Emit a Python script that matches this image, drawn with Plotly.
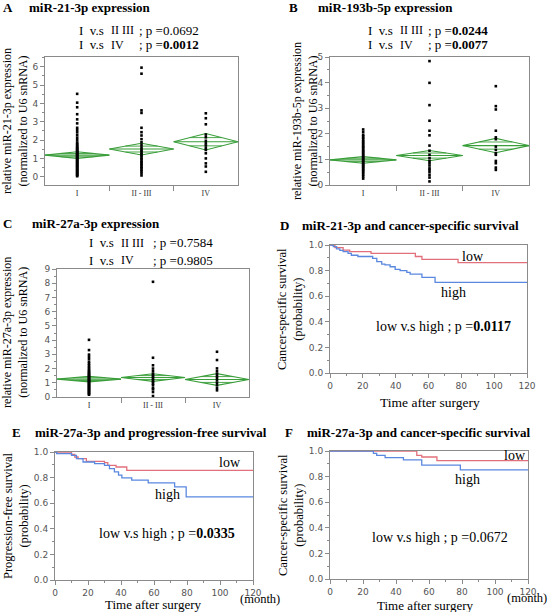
import plotly.graph_objects as go

W, H = 550, 612

# ---------------- data ----------------
groups = ["I", "II - III", "IV"]

A_I = [4.52, 4.04, 3.79, 3.41, 3.13, 2.91, 2.67, 2.55, 2.42, 2.27, 2.13, 2.0, 1.87, 1.79, 1.73, 1.66, 1.61,
       1.55, 1.5, 1.47, 1.41, 1.37, 1.33, 1.28, 1.25, 1.21, 1.16, 1.13, 1.09, 1.04, 1.01, 0.97, 0.92, 0.89,
       0.85, 0.8, 0.77, 0.72, 0.69, 0.64, 0.6, 0.57, 0.52, 0.48, 0.44, 0.39, 0.36, 0.31, 0.27, 0.23, 0.19,
       0.14, 0.11, 0.07, 0.03]
A_II = [5.95, 5.62, 3.62, 3.48, 2.67, 2.43, 2.25, 2.05, 1.88, 1.74, 1.6, 1.49, 1.4, 1.31, 1.22, 1.15, 1.05,
        0.97, 0.88, 0.79, 0.72, 0.64, 0.55, 0.48, 0.38, 0.3, 0.19, 0.07]
A_IV = [3.46, 3.19, 2.86, 2.3, 2.15, 1.96, 1.82, 1.7, 1.55, 1.46, 1.28, 1.0, 0.73, 0.56, 0.27]
A_mean = [1.18, 1.51, 1.91]
A_ci = [0.18, 0.32, 0.45]

B_I = [2.17, 2.07, 1.96, 1.9, 1.84, 1.78, 1.71, 1.66, 1.6, 1.54, 1.49, 1.44, 1.38, 1.33, 1.28, 1.23, 1.18,
       1.13, 1.08, 1.04, 0.99, 0.95, 0.9, 0.86, 0.81, 0.77, 0.72, 0.68, 0.63, 0.58, 0.53, 0.47, 0.4, 0.33, 0.25]
B_II = [4.84, 3.99, 3.12, 2.51, 2.12, 1.94, 1.54, 1.34, 1.18, 1.05, 0.94, 0.85, 0.76, 0.65, 0.59, 0.5, 0.39,
        0.29, 0.14]
B_IV = [3.86, 3.08, 2.95, 2.12, 1.86, 1.79, 1.5, 1.37, 1.24, 1.18, 0.94, 0.85, 0.68, 0.59]
B_mean = [0.98, 1.15, 1.54]
B_ci = [0.13, 0.2, 0.28]

C_I = [4.02, 3.3, 2.98, 2.82, 2.66, 2.47, 2.35, 2.23, 2.11, 2.0, 1.9, 1.81, 1.74, 1.67, 1.6, 1.53, 1.47,
       1.41, 1.35, 1.29, 1.23, 1.17, 1.12, 1.06, 1.0, 0.94, 0.88, 0.82, 0.76, 0.7, 0.64, 0.58, 0.52, 0.46,
       0.4, 0.34, 0.28, 0.22, 0.16]
C_II = [8.1, 2.76, 2.23, 2.0, 1.81, 1.64, 1.53, 1.41, 1.29, 1.17, 1.06, 0.94, 0.82, 0.63, 0.54, 0.35, 0.07]
C_IV = [3.18, 2.6, 2.01, 1.81, 1.64, 1.48, 1.34, 1.17, 1.0, 0.82, 0.63, 0.47]
C_mean = [1.26, 1.37, 1.23]
C_ci = [0.2, 0.27, 0.41]

D_low_t = [0, 3, 8, 12, 25, 52, 56, 78, 120]
D_low_s = [1.0, 0.98, 0.96, 0.948, 0.935, 0.91, 0.888, 0.862, 0.862]
D_high_t = [0, 2, 4, 6, 8, 11, 13, 17, 26, 28.5, 31.5, 33.5, 36.6, 39.7, 42.7, 46.8, 48.8, 56, 64, 120]
D_high_s = [1.0, 0.987, 0.97, 0.958, 0.948, 0.935, 0.92, 0.91, 0.896, 0.87, 0.85, 0.844, 0.83, 0.81, 0.8,
            0.786, 0.773, 0.747, 0.708, 0.708]

E_low_t = [0, 10, 12, 14, 19, 30, 32, 37, 43.5, 120]
E_low_s = [1.0, 0.982, 0.961, 0.948, 0.927, 0.917, 0.896, 0.883, 0.857, 0.857]
E_high_t = [0, 1, 10, 13, 17, 24, 30, 33, 36, 38.5, 40.5, 46.5, 56.5, 72.5, 79.5, 120]
E_high_s = [1.0, 0.987, 0.974, 0.948, 0.922, 0.909, 0.896, 0.87, 0.845, 0.819, 0.798, 0.78, 0.759, 0.727,
            0.65, 0.65]

F_low_t = [0, 52.6, 55.6, 64.8, 120]
F_low_s = [1.0, 0.966, 0.953, 0.925, 0.925]
F_high_t = [0, 26.3, 28.3, 33.4, 44.5, 55.6, 79, 120]
F_high_s = [1.0, 0.982, 0.966, 0.948, 0.93, 0.89, 0.852, 0.852]

# ---------------- style ----------------
SERIF = "Liberation Serif"
SANS = "DejaVu Sans"
GREEN = "#3a9e3a"
RED = "#e2707c"
BLUE = "#5a88e0"
FRAME = "#8a8a8a"


def xdom(l, r):
    return [l / W, r / W]


def ydom(t, b):
    return [1 - b / H, 1 - t / H]


fig = go.Figure()

panels_box = {
    "A": (45, 238, 57, 185),
    "B": (330, 529, 57, 185),
    "C": (57, 249, 269, 397),
    "D": (330, 527, 245, 373),
    "E": (55, 253, 452, 580),
    "F": (330, 528, 451, 579),
}
axis_ids = {"A": "", "B": "2", "C": "3", "D": "4", "E": "5", "F": "6"}


def add_dot_panel(key, data_groups, means, cis):
    k = axis_ids[key]
    xa, ya = "x" + k, "y" + k
    for i, (vals, m, c) in enumerate(zip(data_groups, means, cis)):
        fig.add_trace(go.Scatter(
            x=[i - 0.5, i, i + 0.5, i, i - 0.5], y=[m, m + c, m, m - c, m],
            mode="lines", line=dict(color=GREEN, width=1.1), xaxis=xa, yaxis=ya,
            showlegend=False, hoverinfo="skip"))
        fig.add_trace(go.Scatter(
            x=[i - 0.5, i + 0.5], y=[m, m], mode="lines",
            line=dict(color=GREEN, width=1.1), xaxis=xa, yaxis=ya, showlegend=False, hoverinfo="skip"))
        for sgn in (1, -1):
            fig.add_trace(go.Scatter(
                x=[i - 0.25, i + 0.25], y=[m + sgn * 0.5 * c] * 2, mode="lines",
                line=dict(color=GREEN, width=0.9), xaxis=xa, yaxis=ya, showlegend=False, hoverinfo="skip"))
        fig.add_trace(go.Scatter(
            x=[i] * len(vals), y=vals, mode="markers",
            marker=dict(color="black", size=2.6, symbol="square", line=dict(width=0)),
            xaxis=xa, yaxis=ya, showlegend=False, hoverinfo="skip"))


def add_surv_panel(key, lt, ls, ht, hs):
    k = axis_ids[key]
    xa, ya = "x" + k, "y" + k
    fig.add_trace(go.Scatter(x=lt, y=ls, mode="lines", line=dict(color=RED, width=1.3, shape="hv"),
                             xaxis=xa, yaxis=ya, showlegend=False, hoverinfo="skip"))
    fig.add_trace(go.Scatter(x=ht, y=hs, mode="lines", line=dict(color=BLUE, width=1.3, shape="hv"),
                             xaxis=xa, yaxis=ya, showlegend=False, hoverinfo="skip"))


add_dot_panel("A", [A_I, A_II, A_IV], A_mean, A_ci)
add_dot_panel("B", [B_I, B_II, B_IV], B_mean, B_ci)
add_dot_panel("C", [C_I, C_II, C_IV], C_mean, C_ci)
add_surv_panel("D", D_low_t, D_low_s, D_high_t, D_high_s)
add_surv_panel("E", E_low_t, E_low_s, E_high_t, E_high_s)
add_surv_panel("F", F_low_t, F_low_s, F_high_t, F_high_s)

layout = dict(width=W, height=H, margin=dict(l=0, r=0, t=0, b=0, pad=0), autosize=False,
              paper_bgcolor="white", plot_bgcolor="white", showlegend=False)

yranges = {"A": [-0.45, 6.53], "B": [0, 5], "C": [0, 9]}
for key, (l, r, t, b) in panels_box.items():
    k = axis_ids[key]
    xn = "xaxis" + k
    yn = "yaxis" + k
    common = dict(showline=True, mirror=True, linecolor=FRAME, linewidth=1, showgrid=False,
                  zeroline=False, fixedrange=True, automargin=False)
    if key in ("A", "B", "C"):
        layout[xn] = dict(domain=xdom(l, r), range=[-0.5, 2.5], anchor="y" + k,
                          tickvals=[0, 1, 2], ticktext=groups, ticks="",
                          tickfont=dict(family=SERIF, size=8, color="#333"),
                          minor=dict(tickvals=[0.5, 1.5], ticks="outside", ticklen=5,
                                     tickcolor=FRAME, tickwidth=1),
                          **common)
        layout[yn] = dict(domain=ydom(t, b), range=yranges[key], anchor="x" + k,
                          dtick=1, tick0=0, ticks="outside", ticklen=4, tickcolor=FRAME,
                          tickfont=dict(family=SANS, size=9, color="#555"),
                          minor=dict(dtick=0.5, tick0=0, ticks="outside", ticklen=2, tickcolor=FRAME),
                          **common)
    else:
        layout[xn] = dict(domain=xdom(l, r), range=[0, 120], anchor="y" + k,
                          dtick=20, tick0=0, ticks="outside", ticklen=4, tickcolor=FRAME,
                          tickfont=dict(family=SANS, size=9, color="#555"),
                          minor=dict(dtick=10, tick0=0, ticks="outside", ticklen=2, tickcolor=FRAME),
                          **common)
        layout[yn] = dict(domain=ydom(t, b), range=[0, 1], anchor="x" + k,
                          dtick=0.2, tick0=0, tickformat=".1f", ticks="outside", ticklen=4,
                          tickcolor=FRAME, tickfont=dict(family=SANS, size=9, color="#555"),
                          minor=dict(dtick=0.1, tick0=0, ticks="outside", ticklen=2, tickcolor=FRAME),
                          **common)

fig.update_layout(**layout)

anns = []


def ann(text, px, py, size=13, xanchor="left", angle=0, color="black", bold=False):
    if bold:
        text = "<b>" + text + "</b>"
    anns.append(dict(text=text, x=px / W, y=1 - py / H, xref="paper", yref="paper",
                     xanchor=xanchor, yanchor="middle", showarrow=False, textangle=angle,
                     borderpad=0, font=dict(family=SERIF, size=size, color=color)))


# panel titles
ann("A", 2, 8, 13, bold=True)
ann("miR-21-3p expression", 28, 8, 13, bold=True)
ann("B", 288, 8, 13, bold=True)
ann("miR-193b-5p expression", 317, 8, 13, bold=True)
ann("C", 2, 223, 13, bold=True)
ann("miR-27a-3p expression", 31, 223, 13, bold=True)
ann("D", 279, 225, 13, bold=True)
ann("miR-21-3p and cancer-specific survival", 301, 225, 13, bold=True)
ann("E", 11, 432, 13, bold=True)
ann("miR-27a-3p and progression-free survival", 34, 432, 13, bold=True)
ann("F", 284, 432, 13, bold=True)
ann("miR-27a-3p and cancer-specific survival", 306, 432, 13, bold=True)


# comparison texts
def comp(x0, xp, y1, y2, p1, p2):
    ann("I  v.s", x0, y1)
    ann("II III", x0 + 32, y1, 12)
    ann("; p =" + p1, xp, y1)
    ann("I  v.s", x0, y2)
    ann("IV", x0 + 32, y2, 12)
    ann("; p =" + p2, xp, y2)


comp(78, 138, 30, 45, "0.0692", "<b>0.0012</b>")
comp(367, 427, 30, 45, "<b>0.0244</b>", "<b>0.0077</b>")
comp(88, 152, 243, 260, "0.7584", "0.9805")

# y-axis titles
ann("relative miR-21-3p expression<br>(normalized to U6 snRNA)", 15, 121, 12, "center", -90)
ann("relative miR-193b-5p expression<br>(normalized to U6 snRNA)", 305, 121, 12, "center", -90)
ann("relative miR-27a-3p expression<br>(normalized to U6 snRNA)", 15, 333, 12, "center", -90)
ann("Cancer-specific survival<br>(probability)", 290, 309, 12.5, "center", -90)
ann("Progression-free survival<br>(probability)", 16, 516, 12.5, "center", -90)
ann("Cancer-specific survival<br>(probability)", 291, 515, 12.5, "center", -90)

# survival annotations
ann("low", 473, 256, 14, "center")
ann("high", 453, 292, 14, "center")
ann("low v.s high ; p =<b>0.0117</b>", 443, 326, 14, "center")
ann("Time after surgery", 430, 402, 13.5, "center")

ann("low", 230, 462, 14, "center")
ann("high", 167, 494, 14, "center")
ann("low v.s high ; p =<b>0.0335</b>", 167, 533, 14, "center")
ann("Time after surgery", 153, 604, 13, "center")
ann("(month)", 260, 599, 12.5, "center")

ann("low", 515, 455, 14, "center")
ann("high", 467, 479, 14, "center")
ann("low v.s high ; p =0.0672", 440, 537, 14, "center")
ann("Time after surgery", 425, 605, 13, "center")
ann("(month)", 527, 598, 12.5, "center")

fig.update_layout(annotations=anns)
fig.write_html("out.html", config={"displayModeBar": False},
               post_script="document.body.style.margin='0';")
